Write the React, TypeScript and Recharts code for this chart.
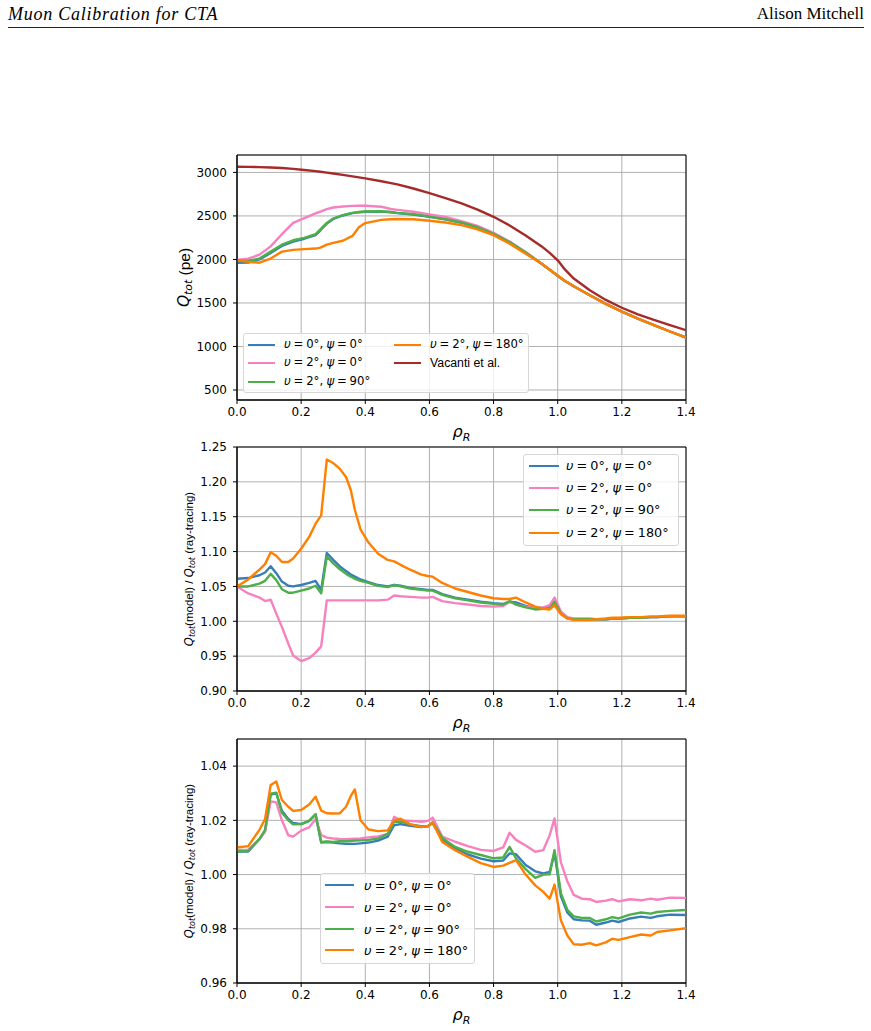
import React from "react";
import {
  LineChart,
  Line,
  XAxis,
  YAxis,
  CartesianGrid,
  Legend,
  ReferenceArea,
} from "recharts";

const FONT = "'DejaVu Sans', sans-serif";
const TEXT_FONT = "'Liberation Sans', Arial, sans-serif";

/* --------- TOP PANEL: Q_tot (pe) --------- */
const RHO_TOP = [
  0, 0.035, 0.07, 0.105, 0.14, 0.175, 0.21, 0.245, 0.26, 0.28, 0.3, 0.33, 0.36,
  0.38, 0.4, 0.45, 0.48, 0.5, 0.55, 0.6, 0.65, 0.7, 0.75, 0.8, 0.85, 0.9, 0.95,
  0.975, 1.0, 1.02, 1.05, 1.1, 1.15, 1.2, 1.25, 1.3, 1.35, 1.4,
];
const TOP_BLUE = [
  1962, 1965, 2000, 2075, 2155, 2205, 2238, 2280, 2335, 2412, 2465, 2505, 2532,
  2543, 2548, 2550, 2542, 2532, 2517, 2490, 2460, 2422, 2368, 2293, 2200, 2080,
  1950, 1880, 1812, 1758, 1692, 1588, 1490, 1400, 1320, 1245, 1172, 1102,
];
const TOP_PINK = [
  1993, 2008, 2055, 2150, 2290, 2420, 2475, 2530, 2550, 2578, 2597, 2608, 2615,
  2617, 2617, 2605, 2580, 2570, 2548, 2518, 2488, 2440, 2385, 2305, 2205, 2085,
  1950, 1880, 1810, 1758, 1692, 1588, 1490, 1400, 1320, 1245, 1172, 1102,
];
const TOP_GREEN = [
  1985, 1982, 2010, 2090, 2170, 2220, 2248, 2290, 2345, 2420, 2470, 2510, 2535,
  2545, 2550, 2553, 2545, 2535, 2520, 2492, 2462, 2425, 2370, 2295, 2200, 2080,
  1950, 1880, 1812, 1758, 1692, 1588, 1490, 1400, 1320, 1245, 1172, 1102,
];
const TOP_ORANGE = [
  1990, 1972, 1962, 2010, 2090, 2110, 2118, 2125, 2135, 2170, 2190, 2215, 2270,
  2370, 2418, 2455, 2462, 2464, 2462, 2445, 2425, 2395, 2345, 2278, 2180, 2066,
  1950, 1885, 1815, 1760, 1692, 1588, 1490, 1400, 1320, 1245, 1172, 1102,
];
const TOP_VACANTI = [
  3065, 3064, 3061, 3057, 3050, 3040, 3028, 3015, 3008, 2998, 2988, 2972, 2955,
  2943, 2932, 2898, 2877, 2862, 2815, 2762, 2705, 2645, 2572, 2490, 2390, 2275,
  2150, 2075, 1990, 1895, 1780, 1645, 1535, 1445, 1370, 1305, 1245, 1187,
];

/* --------- RATIO PANELS --------- */
const RHO = [
  0, 0.035, 0.07, 0.0875, 0.105, 0.1225, 0.14, 0.16, 0.175, 0.2, 0.225, 0.245,
  0.2625, 0.28, 0.3, 0.32, 0.34, 0.355, 0.3675, 0.385, 0.41, 0.44, 0.47, 0.49,
  0.51, 0.54, 0.575, 0.595, 0.61, 0.64, 0.68, 0.72, 0.76, 0.8, 0.83, 0.85, 0.87,
  0.9, 0.93, 0.955, 0.975, 0.99, 1.01, 1.03, 1.05, 1.075, 1.1, 1.12, 1.15, 1.17,
  1.19, 1.225, 1.26, 1.29, 1.31, 1.35, 1.4,
];

const MID_BLUE = [
  1.061, 1.062, 1.066, 1.07, 1.079, 1.069, 1.057, 1.051, 1.05, 1.052, 1.055,
  1.058, 1.045, 1.098, 1.088, 1.079, 1.072, 1.067, 1.064, 1.06, 1.056, 1.052,
  1.05, 1.052, 1.051, 1.048, 1.046, 1.045, 1.045, 1.039, 1.034, 1.031, 1.028,
  1.026, 1.025, 1.028, 1.027, 1.022, 1.019, 1.019, 1.02, 1.027, 1.012, 1.005,
  1.003, 1.003, 1.003, 1.003, 1.003, 1.004, 1.004, 1.005, 1.005, 1.006, 1.006,
  1.007, 1.007,
];
const MID_PINK = [
  1.05, 1.04, 1.034, 1.029, 1.031, 1.011, 0.992, 0.968, 0.951, 0.943, 0.947,
  0.955, 0.964, 1.03, 1.03, 1.03, 1.03, 1.03, 1.03, 1.03, 1.03, 1.03, 1.031,
  1.037, 1.036, 1.035, 1.034, 1.034, 1.035, 1.029, 1.026, 1.024, 1.022, 1.021,
  1.022, 1.028, 1.024, 1.021, 1.019, 1.02, 1.023, 1.034, 1.014, 1.006, 1.004,
  1.004, 1.004, 1.003, 1.003, 1.004, 1.004, 1.005, 1.005, 1.006, 1.006, 1.007,
  1.007,
];
const MID_GREEN = [
  1.05, 1.05, 1.054, 1.058, 1.068, 1.059, 1.046, 1.041, 1.041, 1.044, 1.047,
  1.051, 1.04, 1.093, 1.083, 1.075, 1.068, 1.064, 1.061, 1.058, 1.055, 1.051,
  1.049, 1.052, 1.05, 1.047, 1.045, 1.044, 1.044, 1.038, 1.033, 1.03, 1.027,
  1.025, 1.024, 1.029, 1.024, 1.02, 1.017, 1.018, 1.018, 1.028, 1.011, 1.004,
  1.003, 1.003, 1.003, 1.003, 1.003, 1.004, 1.004, 1.005, 1.005, 1.006, 1.006,
  1.007, 1.007,
];
const MID_ORANGE = [
  1.05, 1.06, 1.074, 1.082, 1.099, 1.094, 1.085, 1.085, 1.09, 1.104, 1.121,
  1.14, 1.152, 1.232, 1.227, 1.219, 1.207, 1.188, 1.16, 1.132, 1.113, 1.097,
  1.088, 1.086, 1.081, 1.074, 1.067, 1.065, 1.064, 1.055, 1.047, 1.042, 1.037,
  1.033, 1.032, 1.032, 1.034, 1.027, 1.021, 1.018, 1.017, 1.023, 1.01, 1.004,
  1.002, 1.002, 1.002, 1.003, 1.004, 1.005, 1.005, 1.006, 1.006, 1.007, 1.007,
  1.008, 1.008,
];

const LOW_BLUE = [
  1.0085, 1.0085, 1.013, 1.016, 1.0295, 1.03, 1.0235, 1.0205, 1.019, 1.0186,
  1.0198, 1.0222, 1.0118, 1.012, 1.0118, 1.0115, 1.0113, 1.0113, 1.0113,
  1.0115, 1.0118, 1.0125, 1.014, 1.0182, 1.0186, 1.018, 1.0175, 1.0178, 1.019,
  1.013, 1.0096, 1.0074, 1.0059, 1.0049, 1.0052, 1.0078, 1.0075, 1.0035,
  1.0012, 1.0004, 1.001, 1.008, 0.992, 0.986, 0.9835, 0.9831, 0.983, 0.9815,
  0.9823, 0.983, 0.9825, 0.9838, 0.9845, 0.984, 0.9846, 0.9852, 0.9851,
];
const LOW_PINK = [
  1.009, 1.0092, 1.013, 1.0158, 1.027, 1.0266, 1.02, 1.0145, 1.014, 1.0162,
  1.0174, 1.0205, 1.0146, 1.0136, 1.0133, 1.0131, 1.013, 1.0131, 1.0132,
  1.0133, 1.0137, 1.0141, 1.015, 1.0213, 1.02, 1.0198, 1.0195, 1.0198, 1.021,
  1.014, 1.0121, 1.0105, 1.0091, 1.0087, 1.01, 1.0154, 1.0128, 1.0107, 1.0084,
  1.009, 1.0145, 1.0207, 1.0045, 0.9975, 0.9925, 0.9911, 0.9909, 0.9899,
  0.9904, 0.9909, 0.9901, 0.9909, 0.9905, 0.9911, 0.9907, 0.9915, 0.9914,
];
const LOW_GREEN = [
  1.0085, 1.0087, 1.0132, 1.0165, 1.0298, 1.0302, 1.0228, 1.02, 1.0185,
  1.0186, 1.0198, 1.0222, 1.012, 1.0122, 1.012, 1.0123, 1.0123, 1.0124,
  1.0125, 1.0126, 1.0128, 1.0133, 1.015, 1.0195, 1.0195, 1.0185, 1.0178,
  1.0178, 1.0192, 1.0135, 1.0102, 1.0084, 1.0072, 1.006, 1.0063, 1.0102, 1.006,
  1.002, 0.9988, 1.0, 1.0001, 1.009, 0.993, 0.987, 0.9846, 0.984, 0.984, 0.9827,
  0.9835, 0.9843, 0.9838, 0.9852, 0.986, 0.9856, 0.9862, 0.9866, 0.9869,
];
const LOW_ORANGE = [
  1.01, 1.0105, 1.0165, 1.0205, 1.033, 1.0343, 1.0275, 1.025, 1.0235, 1.0238,
  1.0258, 1.0287, 1.0236, 1.0226, 1.0225, 1.0226, 1.025, 1.029, 1.0314, 1.02,
  1.0166, 1.016, 1.0163, 1.02, 1.0206, 1.0185, 1.0176, 1.0178, 1.0193, 1.012,
  1.009, 1.0065, 1.0042, 1.0028, 1.0033, 1.0043, 1.0053, 1.0, 0.996, 0.9936,
  0.9911, 0.9963, 0.9831, 0.9775, 0.9743, 0.9741, 0.9747, 0.9739, 0.975,
  0.9763, 0.9759, 0.9769, 0.9779, 0.9775, 0.9788, 0.9794, 0.9802,
];

const X_TICKS = [0, 0.2, 0.4, 0.6, 0.8, 1.0, 1.2, 1.4];
const TOP_TICKS = [500, 1000, 1500, 2000, 2500, 3000];
const MID_TICKS = [0.9, 0.95, 1.0, 1.05, 1.1, 1.15, 1.2, 1.25];
const LOW_TICKS = [0.96, 0.98, 1.0, 1.02, 1.04];

const SERIES = [
  { key: "blue", color: "#377eb8", nu: "0", psi: "0" },
  { key: "pink", color: "#f781bf", nu: "2", psi: "0" },
  { key: "green", color: "#4daf4a", nu: "2", psi: "90" },
  { key: "orange", color: "#ff7f00", nu: "2", psi: "180" },
];
const VACANTI = { key: "vacanti", color: "#a52a2a", name: "Vacanti et al." };

const topData = RHO_TOP.map((r, i) => ({
  rho: r,
  blue: TOP_BLUE[i],
  pink: TOP_PINK[i],
  green: TOP_GREEN[i],
  orange: TOP_ORANGE[i],
  vacanti: TOP_VACANTI[i],
}));
const midData = RHO.map((r, i) => ({
  rho: r,
  blue: MID_BLUE[i],
  pink: MID_PINK[i],
  green: MID_GREEN[i],
  orange: MID_ORANGE[i],
}));
const lowData = RHO.map((r, i) => ({
  rho: r,
  blue: LOW_BLUE[i],
  pink: LOW_PINK[i],
  green: LOW_GREEN[i],
  orange: LOW_ORANGE[i],
}));

// mathtext-like "υ = 0°, ψ = 0°"
function AngleLabel({ nu, psi }: { nu: string; psi: string }) {
  const rel = { padding: "0 0.24em" };
  return (
    <span>
      <i>υ</i>
      <span style={rel}>=</span>
      {nu}°,
      <span style={{ paddingLeft: "0.28em" }} />
      <i>ψ</i>
      <span style={rel}>=</span>
      {psi}°
    </span>
  );
}

interface BoxProps {
  entries: { key: string; color: string; label: React.ReactNode }[];
  rows: number;
  width: number;
  height: number;
  rowStart: number;
  rowStep: number;
  colStep: number;
  lineX: number;
  lineLen: number;
  textX: number;
  fontSize: number;
}

function LegendBox(p: BoxProps) {
  return (
    <div
      style={{
        position: "relative",
        width: p.width,
        height: p.height,
        boxSizing: "border-box",
        border: "1px solid #d6d6d6",
        borderRadius: 3,
        background: "rgba(255,255,255,0.8)",
        fontFamily: FONT,
        fontSize: p.fontSize,
        color: "#000",
      }}
    >
      {p.entries.map((e, i) => {
        const col = Math.floor(i / p.rows);
        const row = i % p.rows;
        const cy = Math.round(p.rowStart + row * p.rowStep);
        const left = col * p.colStep;
        return (
          <React.Fragment key={e.key}>
            <div
              style={{
                position: "absolute",
                left: left + p.lineX,
                top: cy - 1,
                width: p.lineLen,
                height: 2,
                background: e.color,
              }}
            />
            <div
              style={{
                position: "absolute",
                left: left + p.textX,
                top: cy,
                transform: "translateY(-50%)",
                whiteSpace: "nowrap",
                lineHeight: 1,
              }}
            >
              {e.label}
            </div>
          </React.Fragment>
        );
      })}
    </div>
  );
}

const angleEntries = SERIES.map((s) => ({
  key: s.key,
  color: s.color,
  label: <AngleLabel nu={s.nu} psi={s.psi} />,
}));

function RhoLabel(props: any) {
  const vb = props.viewBox;
  return (
    <text
      x={vb.x + vb.width / 2}
      y={vb.y + 37}
      textAnchor="middle"
      fontFamily={FONT}
      fontSize={16}
      fill="#000"
    >
      <tspan fontStyle="italic">ρ</tspan>
      <tspan fontStyle="italic" fontSize={11} dy={4}>
        R
      </tspan>
    </text>
  );
}

function QLabel({ viewBox, cx, size, ratio }: any) {
  const x = viewBox.x + cx;
  const y = viewBox.y + viewBox.height / 2;
  const sub = size * 0.7;
  const drop = size * 0.25;
  const q = (
    <>
      <tspan fontStyle="italic" fontFamily={FONT}>
        Q
      </tspan>
      <tspan fontStyle="italic" fontFamily={FONT} fontSize={sub} dy={drop}>
        tot
      </tspan>
    </>
  );
  return (
    <text
      x={x}
      y={y}
      transform={`rotate(-90 ${x} ${y})`}
      textAnchor="middle"
      dominantBaseline="central"
      fontFamily={TEXT_FONT}
      fontSize={size}
      fill="#000"
    >
      {ratio ? (
        <>
          {q}
          <tspan dy={-drop}>(model) / </tspan>
          {q}
          <tspan dy={-drop}> (ray-tracing)</tspan>
        </>
      ) : (
        <>
          {q}
          <tspan dy={-drop}> (pe)</tspan>
        </>
      )}
    </text>
  );
}

interface PanelProps {
  top: number;
  data: any[];
  lines: { key: string; color: string }[];
  domain: [number, number];
  ticks: number[];
  digits: number;
  plotH: number;
  ratio: boolean;
  legend: React.ReactNode;
  legendPos: { left: number; top: number };
}

function Panel(p: PanelProps) {
  const W = 560;
  const H = 10 + p.plotH + 30 + 15;
  const tickStyle = { fill: "#000", fontSize: 12, fontFamily: FONT };
  return (
    <div style={{ position: "absolute", left: 140, top: p.top, width: W, height: H }}>
      <LineChart
        width={W}
        height={H}
        data={p.data}
        margin={{ top: 10, right: 14, bottom: 15, left: 0 }}
      >
        <CartesianGrid stroke="#b0b0b0" strokeWidth={1} />
        <XAxis
          dataKey="rho"
          type="number"
          domain={[0, 1.4]}
          ticks={X_TICKS}
          tickFormatter={(v: number) => v.toFixed(1)}
          height={30}
          tickSize={4}
          tickMargin={3}
          stroke="#000"
          tick={tickStyle}
          allowDataOverflow
          label={(lp: any) => <RhoLabel {...lp} />}
        />
        <YAxis
          type="number"
          domain={p.domain}
          ticks={p.ticks}
          tickFormatter={(v: number) => (p.digits ? v.toFixed(p.digits) : String(v))}
          width={97}
          tickSize={4}
          tickMargin={6}
          stroke="#000"
          tick={tickStyle}
          allowDataOverflow
          label={(lp: any) => (
            <QLabel
              viewBox={lp.viewBox}
              cx={p.ratio ? 49 : 44}
              size={p.ratio ? 11.5 : 15.5}
              ratio={p.ratio}
            />
          )}
        />
        <ReferenceArea
          x1={0}
          x2={1.4}
          y1={p.domain[0]}
          y2={p.domain[1]}
          fill="none"
          fillOpacity={0}
          stroke="#000"
          strokeWidth={1}
        />
        {p.lines.map((s) => (
          <Line
            key={s.key}
            dataKey={s.key}
            type="linear"
            stroke={s.color}
            strokeWidth={2.4}
            strokeLinejoin="round"
            dot={false}
            activeDot={false}
            isAnimationActive={false}
          />
        ))}
        <Legend
          layout="horizontal"
          align="center"
          verticalAlign="middle"
          wrapperStyle={{ left: p.legendPos.left, top: p.legendPos.top, width: "auto" }}
          content={() => p.legend}
        />
      </LineChart>
    </div>
  );
}

export default function App() {
  return (
    <div
      style={{
        position: "absolute",
        left: 0,
        top: 0,
        width: 871,
        height: 1031,
        background: "#fff",
        overflow: "hidden",
      }}
    >
      <div
        style={{
          position: "absolute",
          left: 8,
          top: 4,
          fontFamily: "'Liberation Serif', serif",
          fontStyle: "italic",
          fontSize: 18,
          letterSpacing: 0.75,
        }}
      >
        Muon Calibration for CTA
      </div>
      <div
        style={{
          position: "absolute",
          right: 7,
          top: 4,
          fontFamily: "'Liberation Serif', serif",
          fontSize: 17,
        }}
      >
        Alison Mitchell
      </div>
      <div
        style={{
          position: "absolute",
          left: 8,
          top: 27,
          width: 856,
          height: 1,
          background: "#222",
        }}
      />

      <Panel
        top={145}
        data={topData}
        lines={[...SERIES, VACANTI]}
        domain={[385, 3200]}
        ticks={TOP_TICKS}
        digits={0}
        plotH={245}
        ratio={false}
        legendPos={{ left: 103, top: 188 }}
        legend={
          <LegendBox
            entries={[
              ...angleEntries,
              {
                key: VACANTI.key,
                color: VACANTI.color,
                label: <span style={{ fontFamily: TEXT_FONT, fontSize: 12.3 }}>{VACANTI.name}</span>,
              },
            ]}
            rows={3}
            width={286}
            height={60}
            rowStart={10.5}
            rowStep={18.5}
            colStep={146}
            lineX={4}
            lineLen={27}
            textX={40}
            fontSize={11.7}
          />
        }
      />

      <Panel
        top={437}
        data={midData}
        lines={SERIES}
        domain={[0.9, 1.25]}
        ticks={MID_TICKS}
        digits={2}
        plotH={244}
        ratio
        legendPos={{ left: 383, top: 17 }}
        legend={
          <LegendBox
            entries={angleEntries}
            rows={4}
            width={156}
            height={92}
            rowStart={10.5}
            rowStep={22.4}
            colStep={0}
            lineX={5}
            lineLen={30}
            textX={42}
            fontSize={12.8}
          />
        }
      />

      <Panel
        top={729}
        data={lowData}
        lines={SERIES}
        domain={[0.96, 1.05]}
        ticks={LOW_TICKS}
        digits={2}
        plotH={244}
        ratio
        legendPos={{ left: 180, top: 144 }}
        legend={
          <LegendBox
            entries={angleEntries}
            rows={4}
            width={155}
            height={91}
            rowStart={11}
            rowStep={21.8}
            colStep={0}
            lineX={4}
            lineLen={29}
            textX={43}
            fontSize={13}
          />
        }
      />
    </div>
  );
}
